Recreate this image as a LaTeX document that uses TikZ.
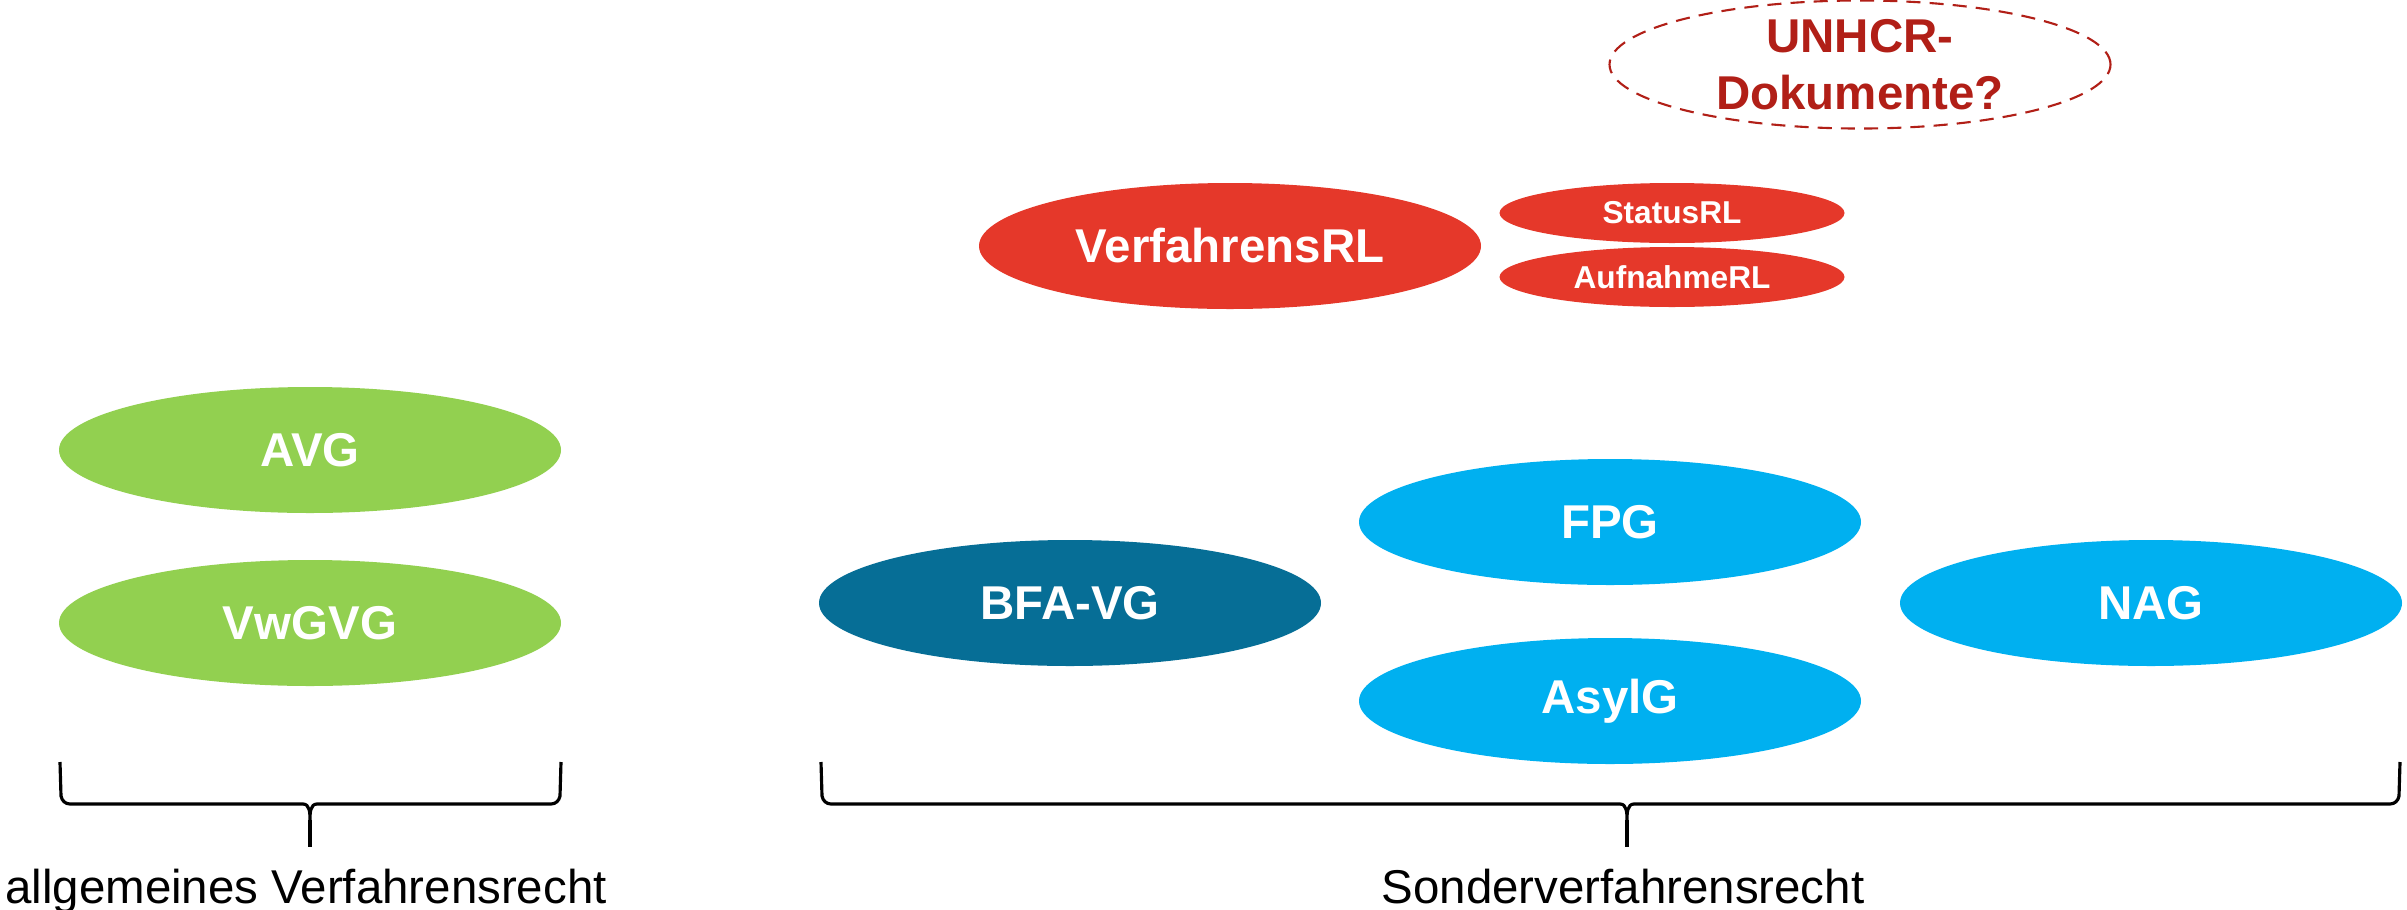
\documentclass[tikz,border=0pt]{standalone}
\usepackage{fontspec}
\setmainfont{Liberation Sans}
\usetikzlibrary{shapes.geometric}
\definecolor{lawgreen}{HTML}{92D050}
\definecolor{lawblue}{HTML}{00B0F0}
\definecolor{lawdark}{HTML}{066E96}
\definecolor{lawred}{HTML}{E5382A}
\definecolor{lawwine}{HTML}{B11F17}
\tikzset{
  act/.style={ellipse, fill=#1, text=white, inner sep=0pt, minimum width=5.02cm, minimum height=1.26cm, font=\fontsize{13.5}{16}\selectfont\bfseries},
  rl/.style={ellipse, fill=lawred, text=white, inner sep=0pt, minimum width=3.45cm, minimum height=0.6cm, font=\fontsize{9}{11}\selectfont\bfseries},
  bracepen/.style={line width=0.9pt},
  grouplabel/.style={font=\fontsize{13.5}{16}\selectfont, inner sep=0pt, anchor=base}
}
\begin{document}
\begin{tikzpicture}
\useasboundingbox (0,0) rectangle (24.07,-9.09);
\foreach \nm/\x/\y/\col/\txt in {avg/3.10/-4.50/lawgreen/AVG, vwgvg/3.10/-6.23/lawgreen/VwGVG, bfavg/10.70/-6.03/lawdark/BFA-VG, fpg/16.10/-5.22/lawblue/FPG, asylg/16.10/-7.01/lawblue/AsylG, nag/21.51/-6.03/lawblue/NAG, verfrl/12.30/-2.46/lawred/VerfahrensRL}
{
	\node[act=\col] (\nm) at (\x,\y) {\txt};
}
\node[rl] (statusrl) at (16.72,-2.13) {StatusRL};
\node[rl] (aufnahmerl) at (16.72,-2.77) {AufnahmeRL};
\node[ellipse, draw=lawwine, line width=0.6pt, dash pattern=on 4pt off 2.6pt, minimum width=5.01cm, minimum height=1.25cm, inner sep=0pt, align=center, text=lawwine, font=\fontsize{13.5}{16.2}\selectfont\bfseries] (unhcr) at (18.60,-0.645) {UNHCR-\\Dokumente?};
\foreach \l/\m/\r/\nm/\txt in {0.60/3.10/5.61/allgemein/allgemeines Verfahrensrecht, 8.21/16.27/24.00/sonder/Sonderverfahrensrecht}
{
	\draw[bracepen] (\l,-7.62) -- ({\l+0.01},-7.96) to[out=-80,in=180] ({\l+0.10},-8.04) -- ({\m-0.07},-8.04) to[out=0,in=90] (\m,-8.20) to[out=90,in=180] ({\m+0.07},-8.04) -- ({\r-0.10},-8.04) to[out=0,in=-100] ({\r-0.01},-7.96) -- (\r,-7.62);
	\draw[bracepen] (\m,-8.20) -- (\m,-8.47);
	\node[grouplabel] (\nm) at ({\m-0.04},-9.03) {\txt};
}
\end{tikzpicture}
\end{document}
